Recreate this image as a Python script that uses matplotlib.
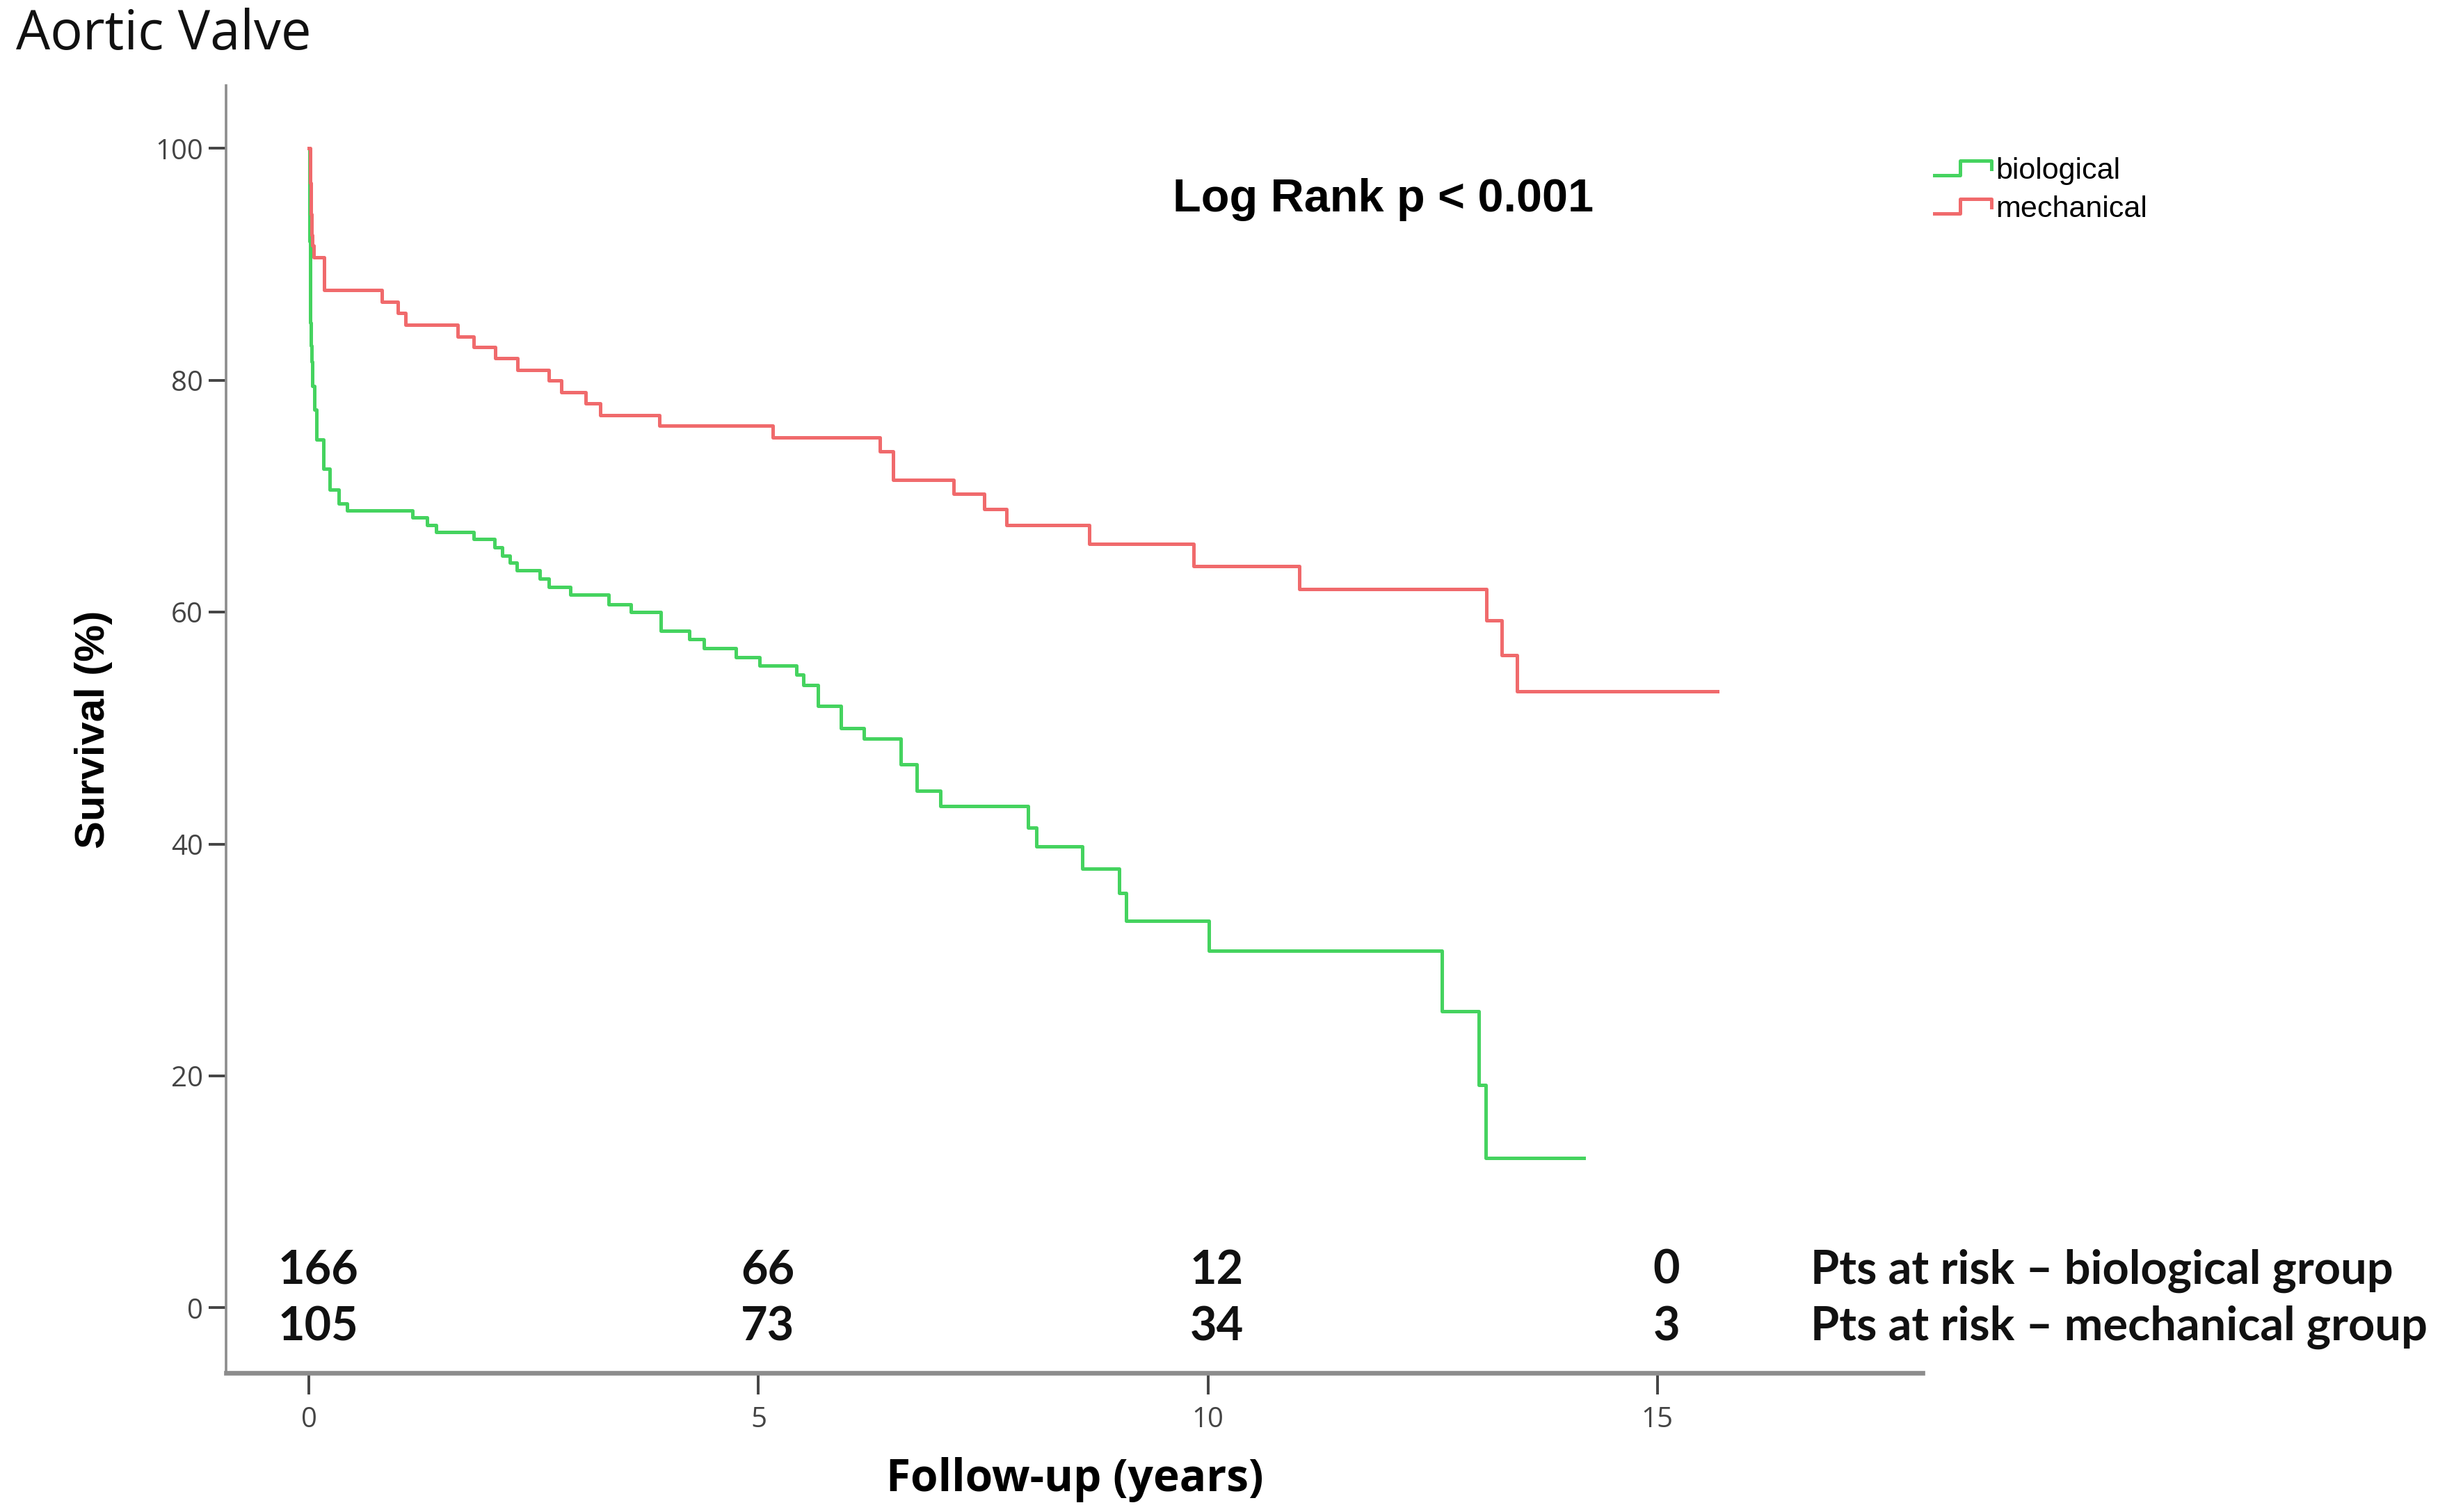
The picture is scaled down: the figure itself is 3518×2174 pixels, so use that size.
import matplotlib

matplotlib.use("Agg")

import matplotlib.pyplot as plt  # noqa: E402
from matplotlib.legend_handler import HandlerBase  # noqa: E402
from matplotlib.lines import Line2D  # noqa: E402

# Kaplan-Meier steps: survival[i] holds from time[i] on.
bio_time = [0, 0.005, 0.01, 0.015, 0.02, 0.03, 0.04, 0.06, 0.08, 0.16, 0.23,
            0.33, 0.42, 1.15, 1.31, 1.41, 1.83, 2.06, 2.15, 2.23, 2.31, 2.57,
            2.67, 2.91, 3.33, 3.58, 3.91, 4.23, 4.39, 4.75, 5.01, 5.42, 5.50,
            5.66, 5.92, 6.17, 6.58, 6.76, 7.02, 8.00, 8.09, 8.60, 9.01, 9.09,
            10.01, 12.60, 13.01, 13.09, 14.18]
bio_surv = [100, 92, 87.5, 85, 83, 81.6, 79.5, 77.5, 74.9, 72.4, 70.6,
            69.4, 68.8, 68.2, 67.5, 66.9, 66.3, 65.6, 64.9, 64.3, 63.6, 62.9,
            62.2, 61.5, 60.7, 60.0, 58.4, 57.7, 56.9, 56.1, 55.4, 54.6, 53.7,
            51.9, 50.0, 49.1, 46.9, 44.6, 43.3, 41.4, 39.8, 37.9, 35.8, 33.4,
            30.8, 25.6, 19.2, 12.9, 12.9]

mech_time = [0, 0.01, 0.02, 0.03, 0.04, 0.05, 0.17, 0.81, 0.99, 1.07, 1.65,
             1.83, 2.07, 2.32, 2.67, 2.81, 3.08, 3.24, 3.90, 5.16, 6.35, 6.50,
             7.17, 7.51, 7.76, 8.68, 9.84, 11.02, 13.10, 13.27, 13.44, 15.67]
mech_surv = [100, 97, 94.3, 92.5, 91.6, 90.6, 87.8, 86.8, 85.8, 84.8, 83.8,
             82.9, 81.9, 80.9, 80.0, 79.0, 78.0, 77.0, 76.1, 75.1, 73.9, 71.4,
             70.2, 68.9, 67.5, 65.9, 64.0, 62.0, 59.3, 56.3, 53.2, 53.2]

risk_years = [0, 5, 10, 15]
risk_bio = [166, 66, 12, 0]
risk_mech = [105, 73, 34, 3]

GREEN = "#45d35f"
RED = "#f06a6c"
SPINE = "#8c8c8c"


class StepHandler(HandlerBase):
    """SPSS-style legend key: a small step instead of a straight line."""

    def create_artists(self, legend, orig_handle, xdescent, ydescent,
                       width, height, fontsize, trans):
        x0, w = -xdescent, width
        lo, hi = -ydescent + 0.15 * height, -ydescent + 0.85 * height
        line = Line2D([x0, x0 + 0.45 * w, x0 + 0.45 * w, x0 + w, x0 + w],
                      [lo, lo, hi, hi, 0.45 * height - ydescent],
                      color=orig_handle.get_color(), linewidth=1.8,
                      transform=trans)
        return [line]


fig = plt.figure(figsize=(17.59, 10.87), dpi=200)
ax = fig.add_axes([0.0925, 0.0918, 0.6932, 0.8514])

bio_line, = ax.step(bio_time, bio_surv, where="post", color=GREEN,
                    linewidth=1.8, label="biological")
mech_line, = ax.step(mech_time, mech_surv, where="post", color=RED,
                     linewidth=1.8, label="mechanical")

ax.set_xlim(-0.92, 17.95)
ax.set_ylim(-5.65, 105.4)
ax.set_xticks([0, 5, 10, 15])
ax.set_yticks([0, 20, 40, 60, 80, 100])

for side in ("top", "right"):
    ax.spines[side].set_visible(False)
ax.spines["left"].set_color(SPINE)
ax.spines["left"].set_linewidth(1.3)
ax.spines["bottom"].set_color(SPINE)
ax.spines["bottom"].set_linewidth(2.4)
ax.tick_params(axis="y", direction="out", length=9, width=1.4,
               color="#444444", labelcolor="#444444", labelsize=14.5, pad=3)
ax.tick_params(axis="x", direction="out", length=11, width=1.4,
               color="#444444", labelcolor="#444444", labelsize=14.5, pad=6)
for lab in ax.get_xticklabels() + ax.get_yticklabels():
    lab.set_family("Open Sans")

# numbers at risk
risk_font = dict(fontsize=24, fontweight="bold", family="Lato",
                 color="#111111")
for yr, nb, nm in zip(risk_years, risk_bio, risk_mech):
    ax.text(yr + 0.1, 3.2, str(nb), ha="center", va="center", **risk_font)
    ax.text(yr + 0.1, -1.7, str(nm), ha="center", va="center", **risk_font)
ax.text(16.7, 3.2, "Pts at risk \u2013 biological group", ha="left",
        va="center", clip_on=False, **risk_font)
ax.text(16.7, -1.7, "Pts at risk \u2013 mechanical group", ha="left",
        va="center", clip_on=False, **risk_font)

ax.text(0.682, 0.9115, "Log Rank p < 0.001", transform=ax.transAxes,
        ha="center", va="center", fontsize=24, fontweight="bold",
        family="Liberation Sans")

ax.set_ylabel("Survival (%)", fontsize=21.5, fontweight="bold",
              family="Liberation Sans", labelpad=22)
ax.set_xlabel("Follow-up (years)", fontsize=23, fontweight="bold",
              family="Open Sans", labelpad=12)

fig.text(0.0064, 0.977, "Aortic Valve", ha="left", va="center", fontsize=28,
         family="Open Sans", color="#111111")

fig.legend(handles=[bio_line, mech_line], labels=["biological", "mechanical"],
           handler_map={Line2D: StepHandler()}, loc="upper left",
           bbox_to_anchor=(0.782, 0.91), frameon=False,
           prop={"family": "Liberation Sans", "size": 15.5},
           handlelength=1.9, handletextpad=0.15, labelspacing=0.35,
           borderpad=0.2)

fig.savefig("out.png", dpi=200, facecolor="white")
